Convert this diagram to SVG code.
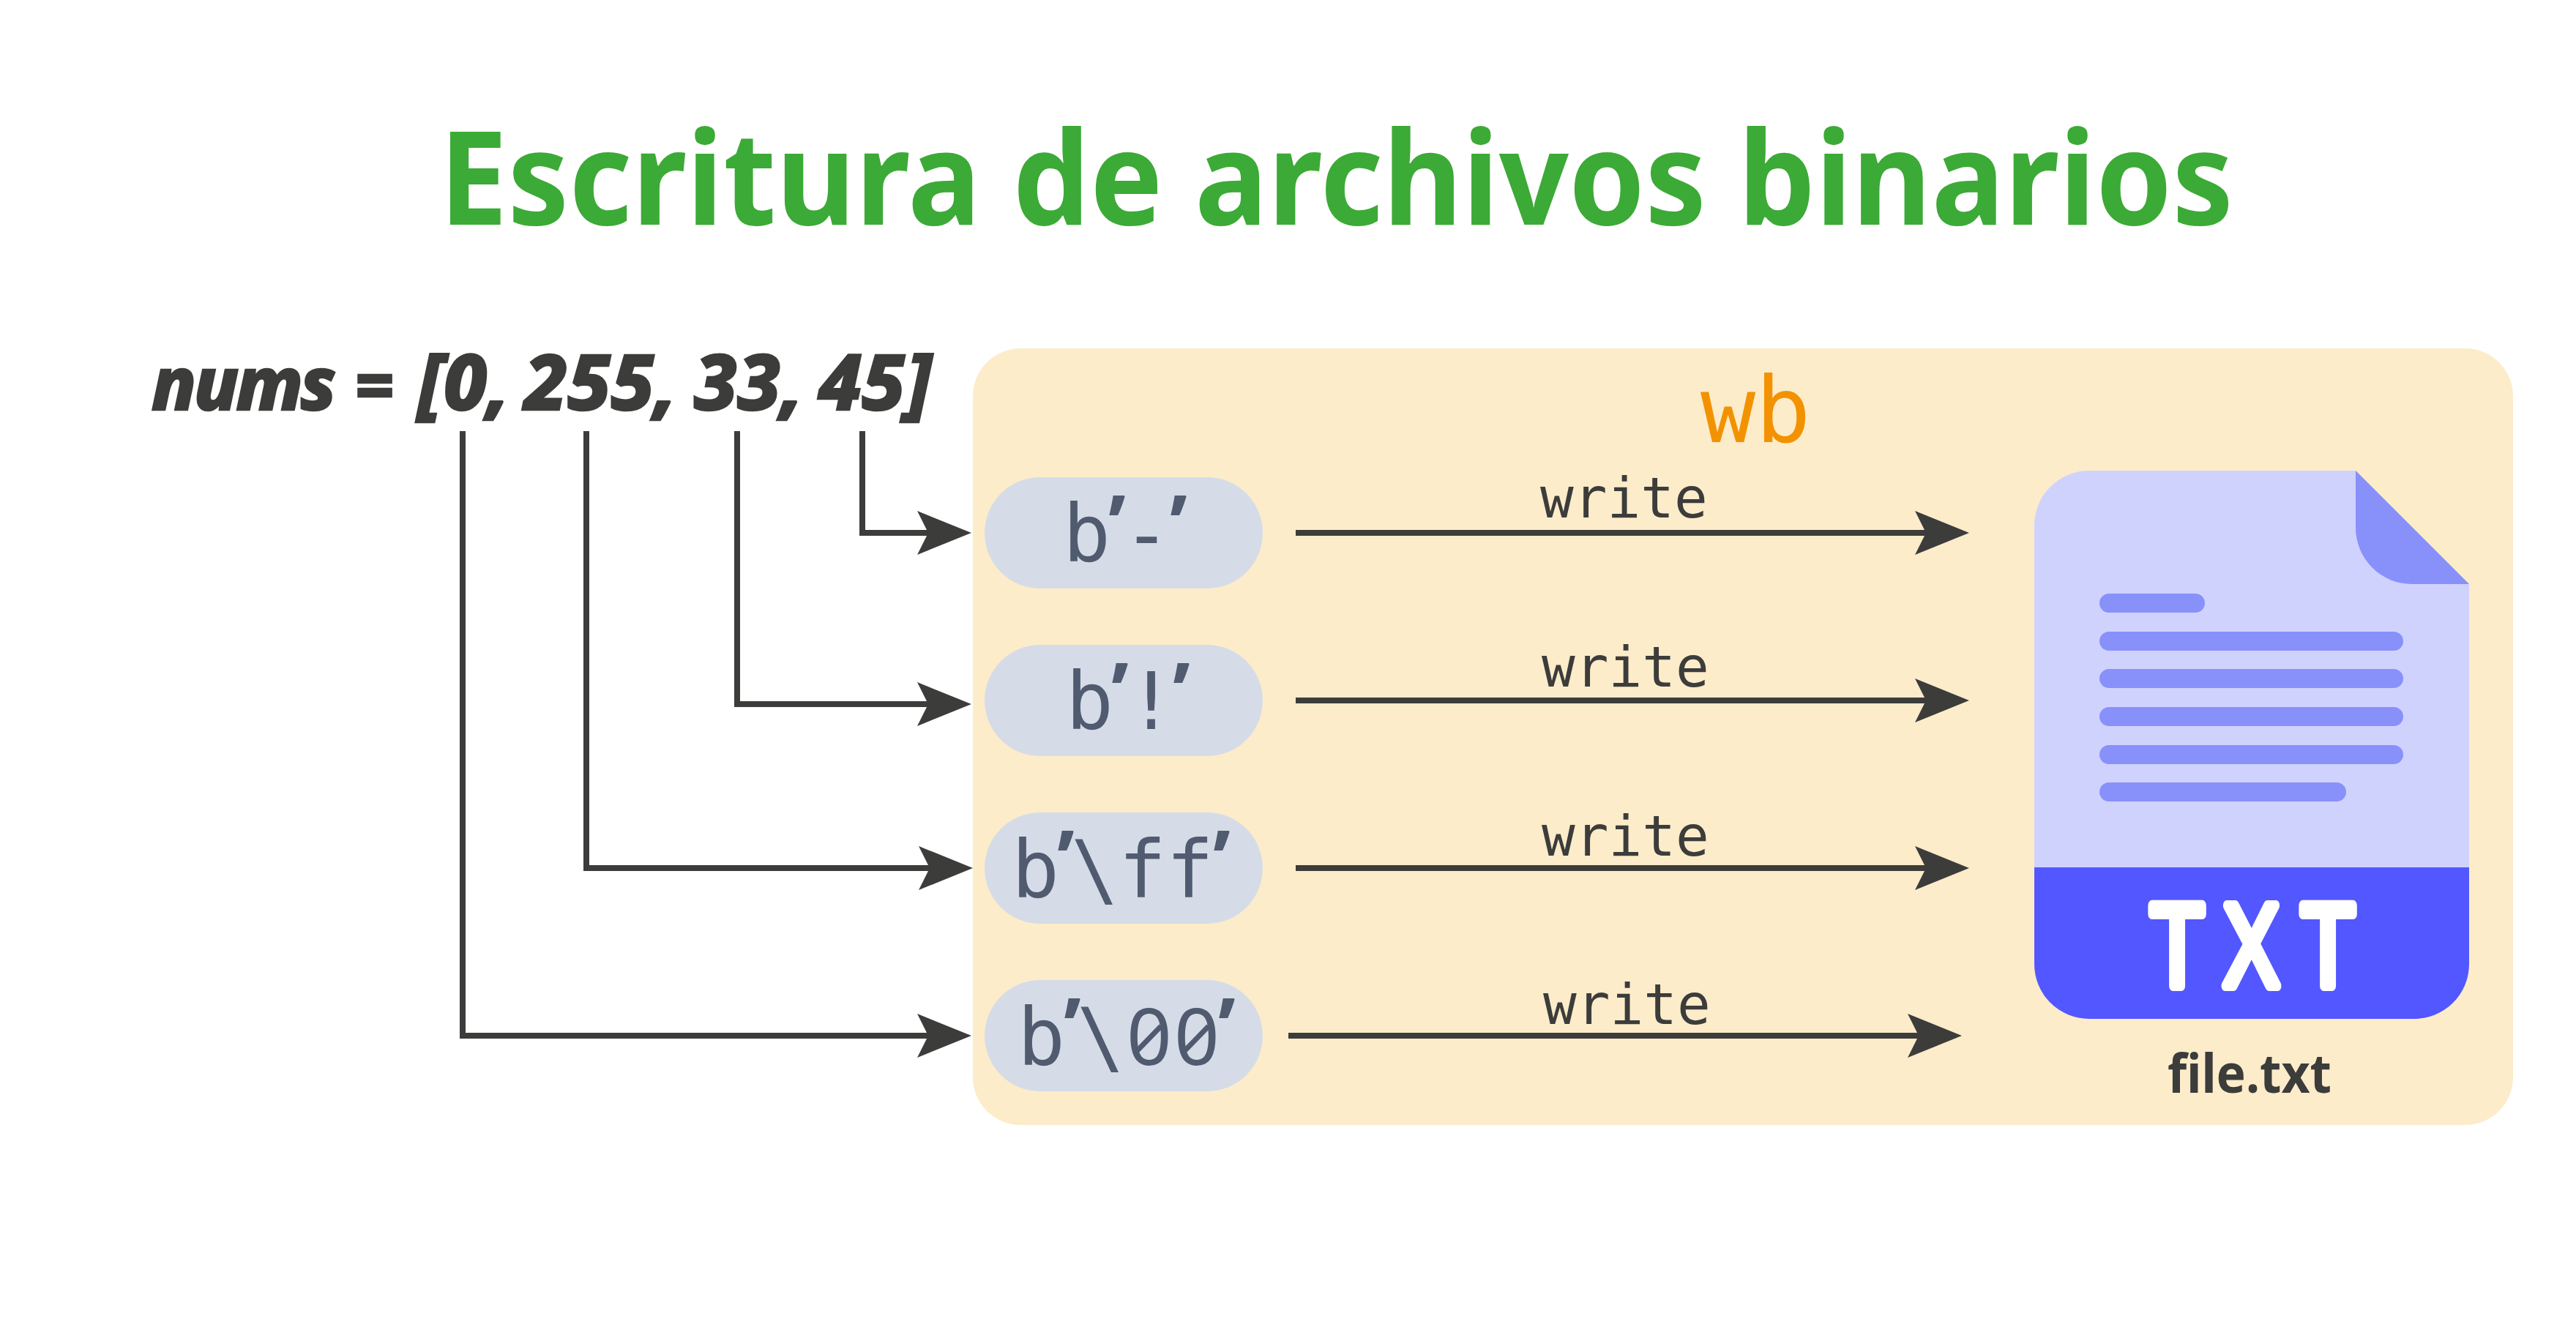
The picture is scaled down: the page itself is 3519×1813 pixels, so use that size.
<svg xmlns="http://www.w3.org/2000/svg" width="3519" height="1813" viewBox="0 0 3519 1813">
<style>
.title{font:700 178px "Noto Sans",sans-serif;fill:#3caa36}
.nums{font:italic 800 100px "Noto Sans",sans-serif;fill:#3c3c3b;stroke:#3c3c3b;stroke-width:2.5}
.d{font-size:105px}
.wb{font:400 125px "DejaVu Sans Mono",monospace;fill:#f39200}
.lbl{font:400 108px "DejaVu Sans Mono",monospace;fill:#505b70}
.q{font:700 110px "Noto Sans",sans-serif}
.z{font:400 108px "Noto Sans",sans-serif}
.sl{fill:none;stroke:#505b70;stroke-width:7}
.wr{font:400 76px "DejaVu Sans Mono",monospace;fill:#3c3c3b}
.file{font:700 74px "Noto Sans",sans-serif;fill:#3c3c3b}
.pill{fill:#d5dce7}
.ln{fill:#8891fa}
.c{fill:none;stroke:#3c3c3b;stroke-width:8}
.h{fill:#3c3c3b}
</style>
<defs><path id="ah" d="M0 0L-74 -30L-59 0L-74 30Z"/></defs>
<rect width="3519" height="1813" fill="#fff"/>
<text id="title" class="title" x="600" y="307" textLength="2451" lengthAdjust="spacingAndGlyphs">Escritura de archivos binarios</text>
<rect id="panel" x="1329" y="476" width="2104" height="1061" rx="65" fill="#fcecca"/>
<text id="nums" class="nums"><tspan x="207" y="560" letter-spacing="-3.5">nums</tspan><tspan x="485" y="560" font-size="92">=</tspan><tspan class="d" x="570" y="560">[0,</tspan><tspan class="d" x="716" y="560">255,</tspan><tspan class="d" x="948" y="560">33,</tspan><tspan class="d" x="1118" y="560">45]</tspan></text>
<text id="wb" class="wb" x="2323" y="604">wb</text>
<g id="pill1"><rect class="pill" x="1345" y="652" width="380" height="152" rx="76"/><text class="lbl"><tspan x="1452" y="767">b</tspan><tspan class="q" x="1514" y="755">’</tspan><tspan x="1534" y="767">-</tspan><tspan class="q" x="1598" y="755">’</tspan></text></g>
<g id="pill2"><rect class="pill" x="1345" y="881" width="380" height="152" rx="76"/><text class="lbl"><tspan x="1456" y="996">b</tspan><tspan class="q" x="1518" y="984">’</tspan><tspan x="1540" y="996">!</tspan><tspan class="q" x="1602" y="984">’</tspan></text></g>
<g id="pill3"><rect class="pill" x="1345" y="1110" width="380" height="152" rx="76"/><text class="lbl"><tspan x="1382" y="1226">b</tspan><tspan class="q" x="1444" y="1213">’</tspan><tspan x="1463" y="1226">\ff</tspan><tspan class="q" x="1657" y="1213">’</tspan></text></g>
<g id="pill4"><rect class="pill" x="1345" y="1339" width="380" height="152" rx="76"/><text class="lbl"><tspan x="1390" y="1455">b</tspan><tspan class="q" x="1453" y="1442">’</tspan><tspan x="1471" y="1455">\</tspan><tspan class="z" x="1539" y="1455">0</tspan><tspan class="z" x="1604" y="1455">0</tspan><tspan class="q" x="1664" y="1442">’</tspan></text>
<path class="sl" d="M1554 1435L1586 1402M1619 1435L1651 1402"/></g>
<g id="connectors">
<path class="c" d="M1178 589V728H1270"/><use href="#ah" class="h" x="1327" y="728"/>
<path class="c" d="M1007 589V962H1270"/><use href="#ah" class="h" x="1327" y="962"/>
<path class="c" d="M801 589V1186H1272"/><use href="#ah" class="h" x="1329" y="1186"/>
<path class="c" d="M632 589V1415H1270"/><use href="#ah" class="h" x="1327" y="1415"/>
<path class="c" d="M1770 728H2635"/><use href="#ah" class="h" x="2690" y="728"/>
<path class="c" d="M1770 957H2635"/><use href="#ah" class="h" x="2690" y="957"/>
<path class="c" d="M1770 1186H2635"/><use href="#ah" class="h" x="2690" y="1186"/>
<path class="c" d="M1760 1415H2625"/><use href="#ah" class="h" x="2680" y="1415"/>
</g>
<g id="writes">
<text class="wr" x="2104" y="707">write</text>
<text class="wr" x="2106" y="938">write</text>
<text class="wr" x="2106" y="1169">write</text>
<text class="wr" x="2108" y="1399">write</text>
</g>
<g id="file">
<path d="M2854 643H3218L3373 798V1185H2779V718A75 75 0 0 1 2854 643Z" fill="#d0d2fe"/>
<path d="M2779 1185H3373V1317A75 75 0 0 1 3298 1392H2854A75 75 0 0 1 2779 1317Z" fill="#5257ff"/>
<path d="M3218 643L3373 798H3295A77 77 0 0 1 3218 721Z" fill="#8891fa"/>
<rect class="ln" x="2868" y="811" width="144" height="26" rx="13"/>
<rect class="ln" x="2868" y="863" width="415" height="26" rx="13"/>
<rect class="ln" x="2868" y="914" width="415" height="26" rx="13"/>
<rect class="ln" x="2868" y="966" width="415" height="26" rx="13"/>
<rect class="ln" x="2868" y="1018" width="415" height="26" rx="13"/>
<rect class="ln" x="2868" y="1069" width="337" height="26" rx="13"/>
<g font-family="Liberation Sans, sans-serif" font-size="160" fill="#fff" stroke="#fff" stroke-width="14" stroke-linejoin="round">
<text transform="translate(2937,1347) scale(0.76,1)">T</text>
<text transform="translate(3037,1347) scale(0.72,1)">X</text>
<text transform="translate(3143,1347) scale(0.76,1)">T</text>
</g>
<text class="file" x="2961" y="1493" textLength="224" lengthAdjust="spacingAndGlyphs">file.txt</text>
</g>
</svg>
